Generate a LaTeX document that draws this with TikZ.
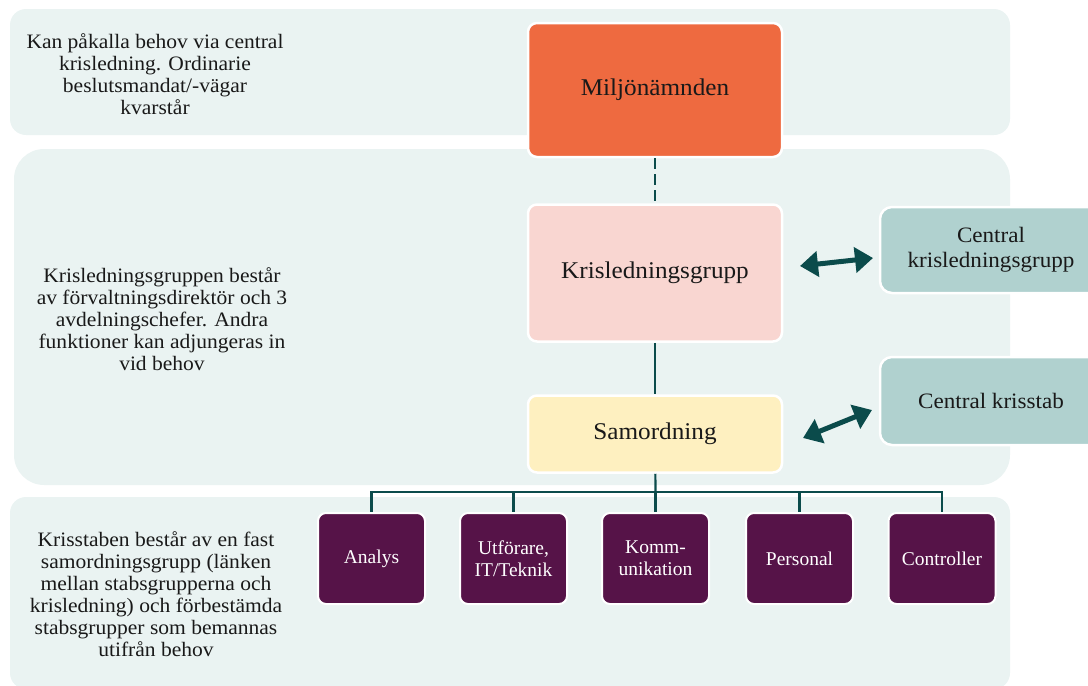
\documentclass[tikz,border=0pt]{standalone}
\usepackage{fontspec}
\setmainfont{Liberation Serif}
\newfontfamily\widefont[FakeStretch=1.05]{Liberation Serif}
\usetikzlibrary{arrows.meta}
\definecolor{bandbg}{HTML}{EAF3F2}
\definecolor{boardred}{HTML}{EE6A40}
\definecolor{groupred}{HTML}{F9D6D1}
\definecolor{coordyellow}{HTML}{FEF0C0}
\definecolor{centralteal}{HTML}{B0D1CF}
\definecolor{staffpurple}{HTML}{561348}
\definecolor{linkteal}{HTML}{0B4B4B}

\begin{document}
\begin{tikzpicture}[x=1pt, y=-1pt, thick, band node/.style={rectangle, fill=bandbg, draw=none}, note node/.style={align=center, font=\widefont\fontsize{20.5}{22}\selectfont, text=black!90}, main node/.style={rectangle, rounded corners=9pt, draw=white, line width=2.5pt, minimum width=254pt, font=\widefont\fontsize{24}{26}\selectfont, text=black!90}, central node/.style={rectangle, rounded corners=12pt, draw=white, line width=2.5pt, fill=centralteal, minimum width=222pt, align=center, font=\widefont\fontsize{22}{25}\selectfont, text=black!90}, staff node/.style={rectangle, rounded corners=8pt, draw=white, line width=2pt, fill=staffpurple, minimum width=107pt, minimum height=91pt, align=center, text=white, font=\fontsize{19.5}{22}\selectfont}, link/.style={draw=linkteal, line width=2.2pt}, twoway/.style={draw=linkteal, line width=5pt, {Triangle[length=18pt,width=25pt]}-{Triangle[length=18pt,width=25pt]}}]
\useasboundingbox (0,0) rectangle (1088,686);

% bakgrundsband
\node[band node, rounded corners=16pt, minimum width=1000pt, minimum height=126pt](topband) at (510,72) {};
\node[band node, rounded corners=30pt, minimum width=996pt, minimum height=336pt](midband) at (512,317) {};
\node[band node, rounded corners=16pt, minimum width=1000pt, minimum height=192pt](lowband) at (510,593) {};

% texter till vänster
\node[note node](topnote) at (155,74) {Kan påkalla behov via central\\krisledning. Ordinarie\\beslutsmandat/-vägar\\kvarstår};
\node[note node](midnote) at (162,319) {Krisledningsgruppen består\\av förvaltningsdirektör och 3\\avdelningschefer. Andra\\funktioner kan adjungeras in\\vid behov};
\node[note node](lownote) at (156,594) {Krisstaben består av en fast\\samordningsgrupp (länken\\mellan stabsgrupperna och\\krisledning) och förbestämda\\stabsgrupper som bemannas\\utifrån behov};

% ledning
\node[main node, fill=boardred, minimum height=134pt](board) at (655,90) {Miljönämnden};
\node[main node, fill=groupred, minimum height=137pt](crisis) at (655,273) {Krisledningsgrupp};
\node[main node, fill=coordyellow, minimum height=77pt](coord) at (655,434) {Samordning};
\node[central node, minimum height=86pt](ccrisis) at (991,250) {Central\\krisledningsgrupp};
\node[central node, minimum height=88pt](cstaff) at (991,401) {Central krisstab};

% stabsgrupper
\node[staff node](analys) at (371.5,558.5) {Analys};
\node[staff node](utforare) at (513.5,558.5) {Utförare,\\IT/Teknik};
\node[staff node](komm) at (655.5,558.5) {Komm-\\unikation};
\node[staff node](personal) at (799.5,558.5) {Personal};
\node[staff node](controller) at (942,558.5) {Controller};

\coordinate (bus) at (655.5,492);
\draw[link, dash pattern=on 11pt off 5pt] (board) -- (crisis);
\draw[link] (crisis) -- (coord);
\draw[link] (coord) -- (bus);
\foreach \grp in {analys, utforare, komm, personal, controller}
    \draw[link] (bus) -| (\grp.north);

\coordinate (a1) at (800,266);
\coordinate (b1) at (873,258);
\coordinate (a2) at (803,438);
\coordinate (b2) at (872,410);
\draw[twoway] (a1) -- (b1);
\draw[twoway] (a2) -- (b2);
\end{tikzpicture}
\end{document}
